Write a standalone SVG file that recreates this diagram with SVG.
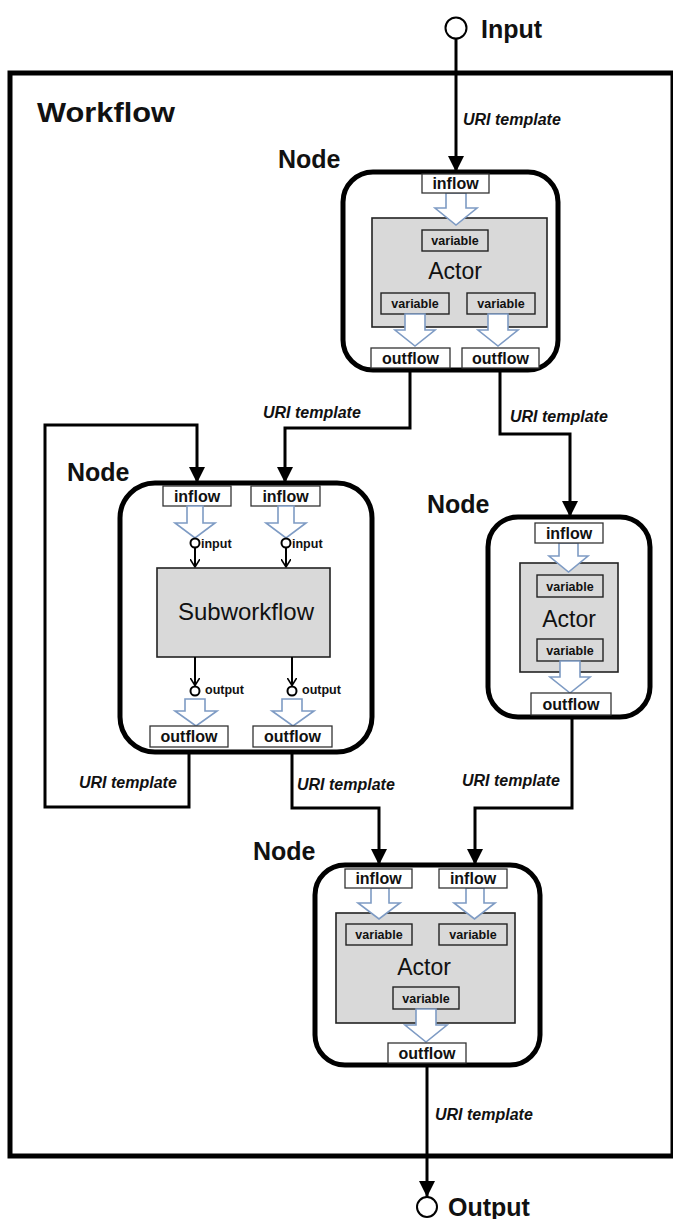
<svg xmlns="http://www.w3.org/2000/svg" width="673" height="1219" viewBox="0 0 673 1219">
<style>
text{font-family:"Liberation Sans",Arial,sans-serif;fill:#111}
.title{font-size:28px;font-weight:bold}
.node{font-size:25px;font-weight:bold}
.io{font-size:25px;font-weight:bold}
.uri{font-size:16px;font-weight:bold;font-style:italic}
.flow{font-size:16px;font-weight:bold;text-anchor:middle}
.var{font-size:12.5px;font-weight:bold;text-anchor:middle}
.actor{font-size:23px;text-anchor:middle}
.port{font-size:12.5px;font-weight:bold}
.nbody{fill:#fff;stroke:#000;stroke-width:5}
.abox{fill:#d9d9d9;stroke:#222;stroke-width:1.6}
.vbox{fill:#d9d9d9;stroke:#222;stroke-width:1.4}
.fbox{fill:#fff;stroke:#333;stroke-width:1.3}
.barrow{fill:#fff;stroke:#7e9bc4;stroke-width:1.6;stroke-linejoin:miter}
.conn{fill:none;stroke:#000;stroke-width:3}
.thin{fill:none;stroke:#000;stroke-width:2}
.pc{fill:#fff;stroke:#000;stroke-width:2}
</style>
<defs>
<marker id="arr" markerUnits="userSpaceOnUse" markerWidth="16" markerHeight="16" refX="16" refY="8" orient="auto"><path d="M0,0 L16,8 L0,16 z" fill="#000"/></marker>
<marker id="open" markerUnits="userSpaceOnUse" markerWidth="10" markerHeight="10" refX="8" refY="5" orient="auto"><path d="M0,0 L8,5 L0,10" fill="none" stroke="#000" stroke-width="1.6"/></marker>
</defs>

<g id="workflow">
<rect x="10" y="73" width="663" height="1083" fill="none" stroke="#000" stroke-width="5"/>
<text class="title" x="37" y="122" textLength="138" lengthAdjust="spacingAndGlyphs">Workflow</text>
</g>

<g id="input">
<circle cx="456" cy="28" r="10.5" fill="#fff" stroke="#000" stroke-width="2"/>
<text class="io" x="481" y="38">Input</text>
</g>

<g id="output">
<circle cx="427" cy="1207" r="10" fill="#fff" stroke="#000" stroke-width="2"/>
<text class="io" x="448" y="1216">Output</text>
</g>

<g id="connectors">
<path class="conn" d="M456,39 V172" marker-end="url(#arr)"/>
<path class="conn" d="M410,368 V428 H285 V483" marker-end="url(#arr)"/>
<path class="conn" d="M500,368 V434 H570 V517" marker-end="url(#arr)"/>
<path class="conn" d="M189,747 V807 H45 V425 H197 V483" marker-end="url(#arr)"/>
<path class="conn" d="M292,747 V808 H379 V865" marker-end="url(#arr)"/>
<path class="conn" d="M572,715 V808 H475 V865" marker-end="url(#arr)"/>
<path class="conn" d="M427,1063 V1197" marker-end="url(#arr)"/>
<text class="uri" x="463" y="125">URI template</text>
<text class="uri" x="263" y="418">URI template</text>
<text class="uri" x="510" y="422">URI template</text>
<text class="uri" x="79" y="788">URI template</text>
<text class="uri" x="297" y="790">URI template</text>
<text class="uri" x="462" y="786">URI template</text>
<text class="uri" x="435" y="1120">URI template</text>
</g>

<g id="node-top">
<text class="node" x="278" y="168">Node</text>
<rect class="nbody" x="343" y="172" width="215" height="198" rx="30"/>
<rect class="abox" x="372" y="218" width="175" height="109"/>
<rect class="vbox" x="422" y="230" width="66" height="21"/>
<text class="var" x="455" y="245">variable</text>
<text class="actor" x="455" y="279">Actor</text>
<rect class="vbox" x="381" y="293" width="68" height="21"/>
<text class="var" x="415" y="308">variable</text>
<rect class="vbox" x="467" y="293" width="68" height="21"/>
<text class="var" x="501" y="308">variable</text>
<path class="barrow" d="M446,193 H466 V208 H477 L456,225 L435,208 H446 Z"/>
<path class="barrow" d="M405,314 H425 V330 H435 L415,346 L395,330 H405 Z"/>
<path class="barrow" d="M488,314 H508 V330 H518 L498,346 L478,330 H488 Z"/>
<rect class="fbox" x="422" y="174" width="67" height="19"/>
<text class="flow" x="455.5" y="189">inflow</text>
<rect class="fbox" x="371" y="348" width="79" height="20"/>
<text class="flow" x="410.5" y="364">outflow</text>
<rect class="fbox" x="462" y="348" width="77" height="20"/>
<text class="flow" x="500.5" y="364">outflow</text>
</g>

<g id="node-left">
<text class="node" x="67" y="481">Node</text>
<rect class="nbody" x="120" y="483" width="252" height="269" rx="35"/>
<rect class="fbox" x="163" y="486" width="68" height="20"/>
<text class="flow" x="197" y="502">inflow</text>
<rect class="fbox" x="251" y="486" width="69" height="20"/>
<text class="flow" x="285.5" y="502">inflow</text>
<path class="barrow" d="M187,506 H203 V523 H215 L195,538 L175,523 H187 Z"/>
<path class="barrow" d="M278,506 H294 V523 H306 L286,538 L266,523 H278 Z"/>
<circle class="pc" cx="195" cy="543" r="4.5"/>
<circle class="pc" cx="286" cy="543" r="4.5"/>
<text class="port" x="201" y="548">input</text>
<text class="port" x="292" y="548">input</text>
<path class="thin" d="M195,547.5 V567" marker-end="url(#open)"/>
<path class="thin" d="M286,547.5 V567" marker-end="url(#open)"/>
<rect class="abox" x="157" y="568" width="173" height="89"/>
<text class="actor" x="246" y="620" style="font-size:24px">Subworkflow</text>
<path class="thin" d="M195,657 V685.5" marker-end="url(#open)"/>
<path class="thin" d="M292,657 V685.5" marker-end="url(#open)"/>
<circle class="pc" cx="195" cy="691" r="4.5"/>
<circle class="pc" cx="292" cy="691" r="4.5"/>
<text class="port" x="205" y="694">output</text>
<text class="port" x="302" y="694">output</text>
<path class="barrow" d="M185,699 H205 V711 H217 L196,726 L175,711 H185 Z"/>
<path class="barrow" d="M282,699 H302 V711 H314 L293,726 L272,711 H282 Z"/>
<rect class="fbox" x="150" y="726" width="78" height="21"/>
<text class="flow" x="189" y="742">outflow</text>
<rect class="fbox" x="253" y="726" width="79" height="21"/>
<text class="flow" x="292.5" y="742">outflow</text>
</g>

<g id="node-right">
<text class="node" x="427" y="513">Node</text>
<rect class="nbody" x="488" y="517" width="162" height="200" rx="30"/>
<rect class="abox" x="520" y="563" width="98" height="109"/>
<rect class="vbox" x="537" y="575" width="66" height="22"/>
<text class="var" x="570" y="591">variable</text>
<text class="actor" x="569" y="627">Actor</text>
<rect class="vbox" x="537" y="639" width="66" height="22"/>
<text class="var" x="570" y="655">variable</text>
<path class="barrow" d="M559,543 H578 V556 H588 L568.5,572 L549,556 H559 Z"/>
<path class="barrow" d="M560,661 H580 V677 H590 L570,693 L550,677 H560 Z"/>
<rect class="fbox" x="535" y="523" width="68" height="20"/>
<text class="flow" x="569" y="539">inflow</text>
<rect class="fbox" x="531" y="693" width="80" height="22"/>
<text class="flow" x="571" y="710">outflow</text>
</g>

<g id="node-bottom">
<text class="node" x="253" y="860">Node</text>
<rect class="nbody" x="315" y="865" width="225" height="200" rx="30"/>
<rect class="abox" x="336" y="913" width="179" height="110"/>
<rect class="vbox" x="346" y="924" width="66" height="21"/>
<text class="var" x="379" y="939">variable</text>
<rect class="vbox" x="439" y="924" width="68" height="21"/>
<text class="var" x="473" y="939">variable</text>
<text class="actor" x="424" y="975">Actor</text>
<rect class="vbox" x="393" y="987" width="66" height="22"/>
<text class="var" x="426" y="1003">variable</text>
<path class="barrow" d="M371,888 H389 V903 H400 L379,919 L358,903 H371 Z"/>
<path class="barrow" d="M466,888 H484 V903 H495 L474.5,919 L454,903 H466 Z"/>
<path class="barrow" d="M416,1009 H436 V1025 H447 L426,1042 L405,1025 H416 Z"/>
<rect class="fbox" x="345" y="869" width="67" height="19"/>
<text class="flow" x="378.5" y="884">inflow</text>
<rect class="fbox" x="439" y="869" width="68" height="19"/>
<text class="flow" x="473" y="884">inflow</text>
<rect class="fbox" x="388" y="1043" width="78" height="20"/>
<text class="flow" x="427" y="1059">outflow</text>
</g>
</svg>
